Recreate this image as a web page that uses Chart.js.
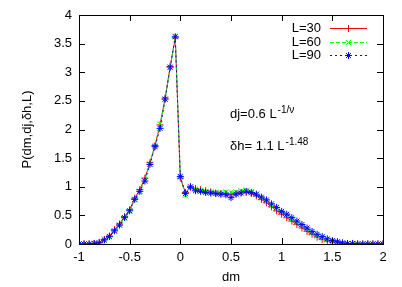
<!DOCTYPE html>
<html>
<head>
<meta charset="utf-8">
<script src="https://cdn.jsdelivr.net/npm/chart.js@4/dist/chart.umd.min.js"></script>
<style>
  html, body { margin: 0; padding: 0; background: #fff; }
  #wrap { width: 402px; height: 287px; }
</style>
</head>
<body>
<div id="wrap"><canvas id="plot" width="402" height="287"></canvas></div>
<script>
// data
const dm = [
  -1.00, -0.95, -0.90, -0.85, -0.80, -0.75, -0.70, -0.65, -0.60, -0.55,
  -0.50, -0.45, -0.40, -0.35, -0.30, -0.25, -0.20, -0.15, -0.10, -0.05,
   0.00,  0.05,  0.10,  0.15,  0.20,  0.25,  0.30,  0.35,  0.40,  0.45,
   0.50,  0.55,  0.60,  0.65,  0.70,  0.75,  0.80,  0.85,  0.90,  0.95,
   1.00,  1.05,  1.10,  1.15,  1.20,  1.25,  1.30,  1.35,  1.40,  1.45,
   1.50,  1.55,  1.60,  1.65,  1.70,  1.75,  1.80,  1.85,  1.90,  1.95,
   2.00,
];
const pL30 = [
  0, 0, 0, 0.01, 0.03, 0.08, 0.14, 0.25, 0.35, 0.48,
  0.60, 0.80, 0.95, 1.15, 1.42, 1.72, 2.08, 2.55, 3.10, 3.60,
  1.15, 0.90, 0.99, 0.97, 0.95, 0.93, 0.91, 0.89, 0.88, 0.88,
  0.87, 0.88, 0.90, 0.90, 0.88, 0.84, 0.78, 0.72, 0.65, 0.58,
  0.52, 0.46, 0.40, 0.34, 0.28, 0.22, 0.17, 0.12, 0.08, 0.05,
  0.03, 0.02, 0.01, 0, 0, 0, 0, 0, 0, 0,
  0,
];
const pL60 = [
  0, 0, 0, 0.01, 0.02, 0.07, 0.12, 0.22, 0.33, 0.45,
  0.57, 0.77, 0.90, 1.12, 1.40, 1.72, 2.10, 2.53, 3.08, 3.63,
  1.17, 0.85, 0.98, 0.96, 0.94, 0.92, 0.91, 0.90, 0.90, 0.91,
  0.90, 0.91, 0.93, 0.94, 0.91, 0.87, 0.80, 0.74, 0.67, 0.60,
  0.55, 0.49, 0.43, 0.37, 0.31, 0.25, 0.19, 0.14, 0.10, 0.07,
  0.04, 0.02, 0.01, 0.01, 0, 0, 0, 0, 0, 0,
  0,
];
const pL90 = [
  0, 0, 0, 0.01, 0.02, 0.07, 0.13, 0.23, 0.33, 0.46,
  0.58, 0.78, 0.92, 1.10, 1.39, 1.70, 2.02, 2.53, 3.09, 3.62,
  1.18, 0.88, 1.00, 0.93, 0.92, 0.90, 0.89, 0.88, 0.87, 0.86,
  0.81, 0.87, 0.89, 0.92, 0.90, 0.87, 0.82, 0.77, 0.70, 0.64,
  0.57, 0.52, 0.46, 0.40, 0.34, 0.28, 0.22, 0.17, 0.13, 0.09,
  0.06, 0.04, 0.02, 0.01, 0.01, 0, 0, 0, 0, 0,
  0,
];
const seriesNames = ["L=30", "L=60", "L=90"];
const xTicks = [-1, -0.5, 0, 0.5, 1, 1.5, 2];
const yTicks = [0, 0.5, 1, 1.5, 2, 2.5, 3, 3.5, 4];

const FONT = "'Liberation Sans', Arial, sans-serif";

function pts(values) {
  return dm.map((x, i) => ({ x: x, y: values[i] }));
}

// gnuplot style box with inward ticks on all four sides
const framePlugin = {
  id: "frame",
  afterDraw(chart) {
    const ctx = chart.ctx;
    const a = chart.chartArea;
    const sx = chart.scales.x;
    const sy = chart.scales.y;
    const t = 6;
    ctx.save();
    ctx.strokeStyle = "#000";
    ctx.lineWidth = 1;
    ctx.beginPath();
    xTicks.forEach((v) => {
      const px = Math.round(sx.getPixelForValue(v)) + 0.5;
      ctx.moveTo(px, a.bottom);
      ctx.lineTo(px, a.bottom - t);
      ctx.moveTo(px, a.top);
      ctx.lineTo(px, a.top + t);
    });
    yTicks.forEach((v) => {
      const py = Math.round(sy.getPixelForValue(v)) + 0.5;
      ctx.moveTo(a.left, py);
      ctx.lineTo(a.left + t, py);
      ctx.moveTo(a.right, py);
      ctx.lineTo(a.right - t, py);
    });
    ctx.stroke();
    ctx.strokeRect(Math.round(a.left) + 0.5, Math.round(a.top) + 0.5,
      Math.round(a.right - a.left), Math.round(a.bottom - a.top));
    ctx.restore();
  },
};

// key in the top right corner, text left of the sample
const keyPlugin = {
  id: "key",
  afterDraw(chart) {
    const ctx = chart.ctx;
    ctx.save();
    ctx.font = "13px " + FONT;
    ctx.textAlign = "right";
    ctx.textBaseline = "middle";
    chart.data.datasets.forEach((ds, i) => {
      const y = 28 + i * 13.5;
      ctx.fillStyle = "#000";
      ctx.fillText(ds.label, 321, y + 0.5);
      ctx.strokeStyle = ds.borderColor;
      ctx.lineWidth = 1;
      ctx.setLineDash(ds.borderDash || []);
      ctx.beginPath();
      ctx.moveTo(330, Math.round(y) + 0.5);
      ctx.lineTo(367, Math.round(y) + 0.5);
      ctx.stroke();
      ctx.setLineDash([]);
      Chart.helpers.drawPoint(ctx, {
        pointStyle: ds.pointStyle,
        radius: ds.pointRadius,
        borderWidth: 1,
        rotation: 0,
      }, 348.5, Math.round(y) + 0.5);
    });
    ctx.restore();
  },
};

// the two scaling notes
const notePlugin = {
  id: "notes",
  afterDraw(chart) {
    const ctx = chart.ctx;
    const sx = chart.scales.x;
    const sy = chart.scales.y;
    const notes = [
      { x: 0.49, y: 2.2, base: "dj=0.6 L", sup: "-1/\u03bd" },
      { x: 0.49, y: 1.65, base: "\u03b4h= 1.1 L", sup: "-1.48" },
    ];
    ctx.save();
    ctx.fillStyle = "#000";
    ctx.textAlign = "left";
    ctx.textBaseline = "alphabetic";
    notes.forEach((n) => {
      const px = sx.getPixelForValue(n.x);
      const py = sy.getPixelForValue(n.y);
      ctx.font = "13px " + FONT;
      ctx.fillText(n.base, px, py);
      const w = ctx.measureText(n.base).width;
      ctx.font = "10px " + FONT;
      ctx.fillText(n.sup, px + w + 1, py - 5);
    });
    ctx.restore();
  },
};

const ctx = document.getElementById("plot").getContext("2d");
const chart = new Chart(ctx, {
  type: "scatter",
  data: {
    datasets: [
      {
        label: seriesNames[0],
        data: pts(pL30),
        showLine: true,
        borderColor: "#ff0000",
        backgroundColor: "#ff0000",
        borderWidth: 1,
        pointStyle: "cross",
        pointRadius: 3.5,
        pointBorderWidth: 1,
        order: 3,
      },
      {
        label: seriesNames[1],
        data: pts(pL60),
        showLine: true,
        borderColor: "#00ff00",
        backgroundColor: "#00ff00",
        borderWidth: 1,
        borderDash: [4, 2],
        pointStyle: "crossRot",
        pointRadius: 3.5,
        pointBorderWidth: 1,
        order: 2,
      },
      {
        label: seriesNames[2],
        data: pts(pL90),
        showLine: true,
        borderColor: "#0000ff",
        backgroundColor: "#0000ff",
        borderWidth: 1,
        borderDash: [2, 3],
        pointStyle: "star",
        pointRadius: 3.5,
        pointBorderWidth: 1,
        order: 1,
      },
    ],
  },
  options: {
    responsive: false,
    animation: false,
    layout: {
      padding: { top: 15, right: 19, left: 0, bottom: 0 },
    },
    scales: {
      x: {
        type: "linear",
        min: -1,
        max: 2,
        afterFit: (s) => { s.height = 43; },
        afterBuildTicks: (s) => { s.ticks = xTicks.map((v) => ({ value: v })); },
        grid: { display: false, drawTicks: false },
        border: { display: false },
        ticks: {
          color: "#000",
          padding: 6,
          maxRotation: 0,
          font: { family: FONT, size: 13 },
          callback: (v) => String(v),
        },
        title: {
          display: true,
          text: "dm",
          color: "#000",
          padding: { top: 0, bottom: 2 },
          font: { family: FONT, size: 13 },
        },
      },
      y: {
        type: "linear",
        min: 0,
        max: 4,
        afterFit: (s) => { s.width = 79; },
        afterBuildTicks: (s) => { s.ticks = yTicks.map((v) => ({ value: v })); },
        grid: { display: false, drawTicks: false },
        border: { display: false },
        ticks: {
          color: "#000",
          padding: 7,
          font: { family: FONT, size: 13 },
          callback: (v) => String(v),
        },
        title: {
          display: true,
          text: "P(dm,dj,\u03b4h,L)",
          color: "#000",
          padding: { top: 20, bottom: 0 },
          font: { family: FONT, size: 13 },
        },
      },
    },
    plugins: {
      legend: { display: false },
      tooltip: { enabled: false },
    },
  },
  plugins: [framePlugin, keyPlugin, notePlugin],
});
</script>
</body>
</html>
